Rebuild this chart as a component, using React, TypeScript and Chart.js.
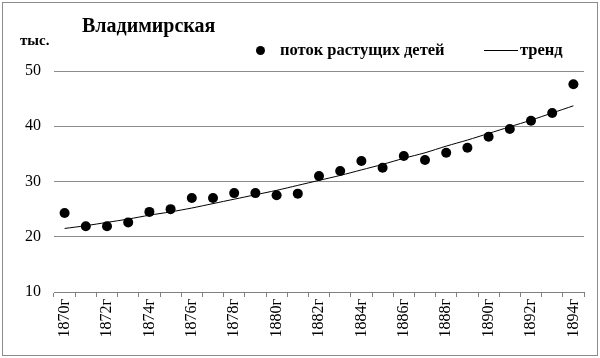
import React, { useEffect, useRef } from "react";
import { Chart, registerables } from "chart.js";

Chart.register(...registerables);

const categories = [
  "1870г", "1871г", "1872г", "1873г", "1874г", "1875г", "1876г", "1877г", "1878г", "1879г",
  "1880г", "1881г", "1882г", "1883г", "1884г", "1885г", "1886г", "1887г", "1888г", "1889г",
  "1890г", "1891г", "1892г", "1893г", "1894г",
];

const flowValues = [
  24.3, 21.9, 21.9, 22.6, 24.5, 25.0, 27.0, 27.0, 27.9, 27.9,
  27.5, 27.8, 31.0, 31.9, 33.7, 32.5, 34.6, 33.9, 35.2, 36.1,
  38.1, 39.5, 41.0, 42.4, 47.6,
];

const trendValues = [
  21.5, 22.0, 22.6, 23.2, 23.9, 24.5, 25.2, 26.0, 26.8, 27.6,
  28.4, 29.3, 30.2, 31.1, 32.1, 33.1, 34.2, 35.2, 36.4, 37.5,
  38.7, 39.9, 41.1, 42.4, 43.7,
];

const yTicks = { min: 10, max: 50, step: 10 };

const SERIF = "'Liberation Serif', 'Times New Roman', serif";

export default function App() {
  const canvasRef = useRef<HTMLCanvasElement | null>(null);

  useEffect(() => {
    document.body.style.margin = "0";
    const canvas = canvasRef.current;
    if (!canvas) return;
    const chart = new Chart(canvas, {
      type: "line",
      data: {
        labels: categories,
        datasets: [
          {
            label: "тренд",
            data: trendValues,
            borderColor: "#000",
            borderWidth: 1,
            pointRadius: 0,
            fill: false,
            tension: 0.3,
            order: 2,
          },
          {
            label: "поток растущих детей",
            data: flowValues,
            showLine: false,
            pointRadius: 5,
            pointBackgroundColor: "#000",
            pointBorderColor: "#000",
            pointBorderWidth: 0,
            order: 1,
          },
        ],
      },
      options: {
        responsive: false,
        animation: false,
        layout: { padding: { top: 71, right: 16, left: 0, bottom: 0 } },
        plugins: {
          legend: { display: false },
          title: { display: false },
          tooltip: { enabled: false },
        },
        scales: {
          x: {
            offset: true,
            grid: {
              offset: true,
              drawOnChartArea: false,
              drawTicks: true,
              tickLength: 5,
              color: "#808080",
            },
            border: { display: true, color: "#808080" },
            ticks: {
              autoSkip: false,
              maxRotation: 90,
              minRotation: 90,
              padding: 2,
              color: "#000",
              font: { family: SERIF, size: 16 },
              callback: function (this: any, value: any, index: number) {
                return index % 2 === 0 ? this.getLabelForValue(value) : "";
              },
            },
            afterFit: (scale: any) => {
              scale.height = 66;
            },
          },
          y: {
            min: yTicks.min,
            max: yTicks.max,
            ticks: {
              stepSize: yTicks.step,
              padding: 13,
              color: "#000",
              font: { family: SERIF, size: 16 },
            },
            grid: { color: "#8c8c8c", drawTicks: false },
            border: { display: false },
            afterFit: (scale: any) => {
              scale.width = 54;
            },
          },
        },
      },
    });
    return () => chart.destroy();
  }, []);

  const txt: React.CSSProperties = {
    position: "absolute",
    fontFamily: SERIF,
    color: "#000",
    whiteSpace: "nowrap",
    lineHeight: 1,
  };

  return (
    <div
      style={{
        position: "relative",
        width: 600,
        height: 358,
        background: "#fff",
        overflow: "hidden",
      }}
    >
      <div
        style={{
          position: "absolute",
          left: 2,
          top: 2,
          width: 594,
          height: 352,
          border: "1px solid #8c8c8c",
        }}
      />
      <canvas ref={canvasRef} width={600} height={358} style={{ position: "absolute", left: 0, top: 0 }} />
      <div style={{ ...txt, left: 82, top: 15, fontSize: 20, fontWeight: "bold" }}>Владимирская</div>
      <div style={{ ...txt, left: 20, top: 33, fontSize: 15, fontWeight: "bold" }}>тыс.</div>
      <div
        style={{
          position: "absolute",
          left: 256,
          top: 46,
          width: 9,
          height: 9,
          borderRadius: "50%",
          background: "#000",
        }}
      />
      <div style={{ ...txt, left: 280, top: 42, fontSize: 16.5, fontWeight: "bold" }}>поток растущих детей</div>
      <div style={{ position: "absolute", left: 484, top: 50, width: 34, height: 1, background: "#000" }} />
      <div style={{ ...txt, left: 520, top: 42, fontSize: 16.5, fontWeight: "bold" }}>тренд</div>
    </div>
  );
}
